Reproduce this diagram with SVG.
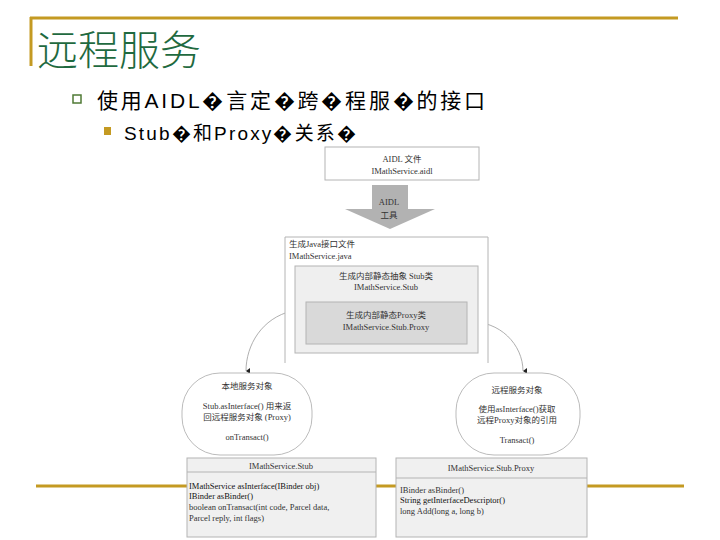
<svg xmlns="http://www.w3.org/2000/svg" width="720" height="540" viewBox="0 0 720 540">
<defs>
<marker id="ah" markerWidth="6" markerHeight="6" refX="3" refY="5" orient="auto" markerUnits="userSpaceOnUse">
<path d="M0,1 L6,1 L3,5 Z" fill="#222"/>
</marker>
</defs>
<style>
.title{font-family:"Noto Sans CJK SC","Noto Sans",sans-serif;font-size:41px;font-weight:300;fill:#1f6a40}
.b1{font-family:"Liberation Sans","Noto Sans CJK SC",sans-serif;font-size:21px;fill:#000}
.d{font-family:"Liberation Serif","Noto Sans CJK SC",serif;font-size:8.5px;fill:#333}
.c{text-anchor:middle}
.box{stroke:#b4b4b4;stroke-width:1}
.gold{stroke:#c49a22;stroke-width:3;fill:none}
.arc{fill:none;stroke:#9a9a9a;stroke-width:0.8}
.oval{fill:#fff;stroke:#aaa;stroke-width:0.8}
</style>
<rect width="720" height="540" fill="#fff"/>
<!-- slide frame -->
<line class="gold" x1="30" y1="18" x2="678" y2="18"/>
<line class="gold" x1="31" y1="17" x2="31" y2="66"/>
<text class="title" x="37" y="65">远程服务</text>
<rect x="73" y="95" width="8" height="8" fill="none" stroke="#4f7a35" stroke-width="1.5"/>
<text class="b1" x="97" y="108" textLength="388" lengthAdjust="spacing">使用AIDL�言定�跨�程服�的接口</text>
<rect x="104" y="127" width="7" height="8" fill="#c49a22"/>
<text class="b1" x="124" y="140" style="font-size:19px" textLength="232" lengthAdjust="spacing">Stub�和Proxy�关系�</text>
<line class="gold" x1="36" y1="486" x2="684" y2="486"/>

<!-- connectors -->
<g id="connectors">
<path d="M372,185 L408,185 L408,209 L435,209 L390,229 L345,209 L372,209 Z" fill="#b2b2b2"/>
<text class="d c" x="389" y="205">AIDL</text>
<text class="d c" x="389" y="218">工具</text>
<path class="arc" d="M292,311 C262,318 246,345 246,371" marker-end="url(#ah)"/>
<path class="arc" d="M468,322 C500,320 523,345 523,371" marker-end="url(#ah)"/>
</g>

<g id="aidl-file">
<rect class="box" x="325" y="147" width="154" height="33" fill="#fff"/>
<text class="d c" x="402" y="162">AIDL 文件</text>
<text class="d c" x="402" y="174">IMathService.aidl</text>
</g>

<g id="java-file">
<path class="box" d="M285,363 L285,237 L488,237 L488,363" fill="#fff"/>
<text class="d" x="289" y="247">生成Java接口文件</text>
<text class="d" x="289" y="259">IMathService.java</text>
</g>

<g id="stub-class">
<rect class="box" x="295" y="266" width="183" height="87" fill="#efefef"/>
<text class="d c" x="386" y="279">生成内部静态抽象 Stub类</text>
<text class="d c" x="386" y="290">IMathService.Stub</text>
</g>

<g id="proxy-class">
<rect class="box" x="306" y="302" width="161" height="42" fill="#d9d9d9"/>
<text class="d c" x="386" y="318">生成内部静态Proxy类</text>
<text class="d c" x="386" y="330">IMathService.Stub.Proxy</text>
</g>

<g id="local-service">
<rect class="oval" x="182" y="373" width="130" height="82" rx="38" ry="38"/>
<text class="d c" x="247" y="389">本地服务对象</text>
<text class="d c" x="247" y="409">Stub.asInterface() 用来返</text>
<text class="d c" x="247" y="420">回远程服务对象 (Proxy)</text>
<text class="d c" x="247" y="440">onTransact()</text>
</g>

<g id="remote-service">
<rect class="oval" x="456" y="373" width="124" height="82" rx="38" ry="38"/>
<text class="d c" x="517" y="393">远程服务对象</text>
<text class="d c" x="517" y="412">使用asInterface()获取</text>
<text class="d c" x="517" y="423">远程Proxy对象的引用</text>
<text class="d c" x="517" y="443">Transact()</text>
</g>

<g id="stub-uml">
<rect class="box" x="187" y="458" width="189" height="79" fill="#f0f0f0"/>
<line class="box" x1="187" y1="472" x2="376" y2="472"/>
<text class="d c" x="281" y="469">IMathService.Stub</text>
<text class="d" x="189" y="489" style="fill:#111">IMathService asInterface(IBinder obj)</text>
<text class="d" x="189" y="499" style="fill:#111">IBinder asBinder()</text>
<text class="d" x="189" y="510">boolean onTransact(int code, Parcel data,</text>
<text class="d" x="189" y="521">Parcel reply, int flags)</text>
</g>

<g id="proxy-uml">
<rect class="box" x="396" y="458" width="191" height="79" fill="#f0f0f0"/>
<line class="box" x1="396" y1="478" x2="587" y2="478"/>
<text class="d c" x="491" y="471">IMathService.Stub.Proxy</text>
<text class="d" x="400" y="493">IBinder asBinder()</text>
<text class="d" x="400" y="503" style="fill:#111">String getInterfaceDescriptor()</text>
<text class="d" x="400" y="514">long Add(long a, long b)</text>
</g>
</svg>
